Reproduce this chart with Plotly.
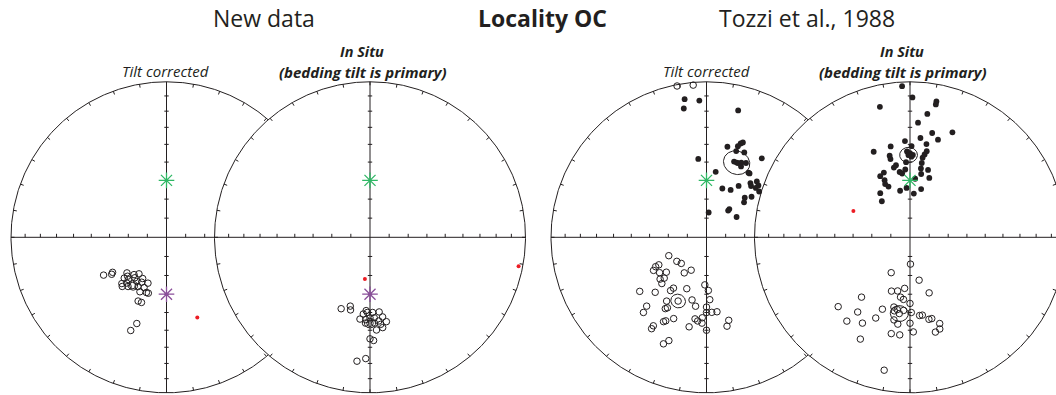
import numpy as np
import plotly.graph_objects as go

# ---------------------------------------------------------------------------
# Palaeomagnetic directions, declination / inclination in degrees.
# Negative inclination = upper hemisphere (open symbols).
# ---------------------------------------------------------------------------

# New data, tilt corrected
new_tc_dec = [239, 237, 236, 228, 225, 221, 217, 226, 222, 218, 210, 224, 221, 214,
              209, 202, 222, 218, 210, 204, 200, 206, 198, 204, 201, 199, 201]
new_tc_inc = [-51, -56, -55, -62, -61, -64, -66, -59, -60, -63, -65, -56, -58, -62,
              -63, -64, -55, -57, -60, -61, -59, -58, -59, -53, -53, -41, -36]
new_tc_mean = (215, -59, 2.5)          # dec, inc, a95

# New data, in situ
new_is_dec = [202, 196, 195, 183, 185, 182, 178, 173, 171, 187, 183, 180, 177, 174,
              169, 183, 177, 173, 172, 176, 180, 178, 182, 186]
new_is_inc = [-49, -52, -50, -51, -49, -50, -50, -50, -47, -46, -46, -47, -47, -45,
              -44, -44, -44, -43, -41, -40, -35, -34, -23, -21]
new_is_mean = (180, -44, 2.7)

# Tozzi et al., 1988, tilt corrected: normal (down) and reversed (up) sites
tozzi_tc_n_dec = [351, 350, 357, 14, 13, 20, 21, 19, 19, 24, 354, 35, 20, 23, 25, 28,
                  26, 8, 33, 34, 39, 41, 42, 45, 45, 49, 18, 27, 32, 48, 44, 47, 39,
                  39, 56, 5]
tozzi_tc_n_inc = [11, 17, 13, 17, 40, 36, 35, 38, 41, 40, 48, 38, 47, 47, 46, 45, 48,
                  55, 49, 49, 53, 54, 50, 51, 53, 53, 63, 62, 58, 58, 61, 63, 71, 72,
                  71, 77]
tozzi_tc_r_dec = [244, 231, 224, 240, 240, 238, 229, 233, 212, 205, 228, 226, 224, 231,
                  223, 214, 213, 201, 182, 178, 212, 193, 177, 221, 220, 209, 210, 189,
                  180, 180, 176, 172, 202, 188, 186, 183, 183, 207, 206, 211, 211, 191,
                  180, 165, 167, 202, 200, 349, 355]
tozzi_tc_r_inc = [-68, -70, -71, -59, -61, -57, -62, -59, -68, -71, -57, -59, -56, -44,
                  -50, -56, -58, -61, -65, -62, -50, -56, -57, -41, -37, -47, -46, -53,
                  -53, -50, -50, -50, -43, -46, -45, -47, -44, -39, -40, -34, -32, -41,
                  -40, -44, -41, -27, -30, -1, -2]
tozzi_tc_n_mean = (22, 47, 6.5)
tozzi_tc_r_mean = (204, -53, 3.7)

# Tozzi et al., 1988, in situ
tozzi_is_n_dec = [357, 1, 347, 11, 11, 8, 4, 22, 12, 6, 16, 357, 10, 1, 348, 337, 11,
                  10, 358, 0, 2, 359, 1, 346, 346, 9, 9, 357, 9, 349, 347, 15, 10, 338,
                  334, 351, 353, 356, 18, 336, 335, 337, 5, 348, 356, 5, 13, 326, 322]
tozzi_is_n_inc = [3, 11, 15, 12, 14, 21, 27, 28, 32, 36, 35, 38, 39, 41, 40, 40, 43,
                  45, 44, 45, 46, 46, 47, 45, 47, 47, 50, 50, 53, 51, 52, 53, 56, 53,
                  54, 55, 56, 54, 57, 57, 59, 61, 59, 65, 64, 67, 64, 62, 66]
tozzi_is_r_dec = [179, 208, 168, 199, 193, 186, 161, 219, 189, 186, 180, 226, 201, 193,
                  190, 215, 192, 185, 179, 203, 217, 209, 191, 188, 180, 173, 171, 167,
                  165, 161, 162, 165, 191, 186, 178, 206, 191]
tozzi_is_r_inc = [-76, -69, -67, -60, -61, -63, -59, -49, -58, -57, -55, -36, -49, -52,
                  -51, -41, -50, -51, -50, -43, -33, -37, -45, -43, -44, -48, -48, -45,
                  -45, -41, -38, -37, -37, -37, -39, -28, -14]
tozzi_is_n_mean = (359, 46, 4.3)
tozzi_is_r_mean = (188, -49, 4.4)

# Reference field directions (normal / reversed dipole)
dipole_normal = (0, 60)
dipole_reversed = (180, -60)

# Additional single directions (red)
extra_dec = [[159], [187, 101], [], [295]]
extra_inc = [[44], [68, 3], [], [57]]

# ---------------------------------------------------------------------------
# Net geometry (page pixels)
# ---------------------------------------------------------------------------
R = 155.5
CY = 237.3
CX = [166.5, 370.0, 706.5, 910.0]
INK = "#231f20"
GREEN = "#2fb865"
PURPLE = "#8a4f9a"
RED = "#ec1c24"


def eq_area(dec, inc, cx):
    """Lambert equal-area (Schmidt) projection onto a net centred at cx."""
    d = np.radians(np.asarray(dec, float))
    colat = np.radians(90.0 - np.abs(np.asarray(inc, float)))
    rho = np.sqrt(2.0) * np.sin(colat / 2.0)
    return cx + R * rho * np.sin(d), CY - R * rho * np.cos(d)


def cone(dec, inc, a95, n=91):
    """Small circle of angular radius a95 around a direction."""
    d, i, a = np.radians([dec, inc, a95])
    m = np.array([np.cos(i) * np.cos(d), np.cos(i) * np.sin(d), np.sin(i)])
    u = np.array([-np.sin(i) * np.cos(d), -np.sin(i) * np.sin(d), np.cos(i)])
    v = np.array([-np.sin(d), np.cos(d), 0.0])
    t = np.linspace(0, 2 * np.pi, n)
    p = np.cos(a) * m[:, None] + np.sin(a) * (np.cos(t) * u[:, None] + np.sin(t) * v[:, None])
    decs = np.degrees(np.arctan2(p[1], p[0])) % 360
    incs = np.degrees(np.arcsin(np.clip(p[2], -1, 1)))
    return decs, incs


def net_frame(cx):
    th = np.linspace(0, 2 * np.pi, 721)
    ring = go.Scatter(x=cx + R * np.sin(th), y=CY - R * np.cos(th), mode="lines",
                      fill="toself", fillcolor="white",
                      line=dict(color=INK, width=1), hoverinfo="skip")
    xs, ys = [cx - R, cx + R, None, cx, cx, None], [CY, CY, None, CY - R, CY + R, None]
    # declination ticks on the primitive
    for k in range(0, 360, 10):
        a = np.radians(k)
        xs += [cx + R * np.sin(a), cx + (R - 3.5) * np.sin(a), None]
        ys += [CY - R * np.cos(a), CY - (R - 3.5) * np.cos(a), None]
    # inclination ticks every 10 degrees along the diameters
    for inc in range(10, 90, 10):
        r = R * np.sqrt(2.0) * np.sin(np.radians(90 - inc) / 2.0)
        for s in (-1, 1):
            xs += [cx + s * r, cx + s * r, None]
            ys += [CY, CY - 3.5, None]
            xs += [cx - 2.2, cx + 2.2, None]
            ys += [CY + s * r, CY + s * r, None]
    lines = go.Scatter(x=xs, y=ys, mode="lines", line=dict(color=INK, width=1),
                       hoverinfo="skip")
    return [ring, lines]


def points(dec, inc, cx, filled):
    x, y = eq_area(dec, inc, cx)
    if filled:
        marker = dict(symbol="circle", size=5.8, color=INK, line=dict(width=0))
    else:
        marker = dict(symbol="circle-open", size=6.5, color=INK, line=dict(width=1, color=INK))
    return go.Scatter(x=x, y=y, mode="markers", marker=marker, hoverinfo="skip")


def mean_with_cone(mean, cx):
    d, i, a = mean
    cd, ci = cone(d, i, a)
    x, y = eq_area(cd, ci, cx)
    ring = go.Scatter(x=x, y=y, mode="lines", line=dict(color=INK, width=1), hoverinfo="skip")
    return [ring, points([d], [i], cx, i > 0)]


def star(direction, cx, color):
    x, y = eq_area([direction[0]], [direction[1]], cx)
    return go.Scatter(x=x, y=y, mode="markers",
                      marker=dict(symbol="asterisk-open", size=13, color=color,
                                  line=dict(width=1.3, color=color)),
                      hoverinfo="skip")


fig = go.Figure()
for cx in CX:
    for tr in net_frame(cx):
        fig.add_trace(tr)

nets = [
    (CX[0], [(new_tc_dec, new_tc_inc, False)], [new_tc_mean], True),
    (CX[1], [(new_is_dec, new_is_inc, False)], [new_is_mean], True),
    (CX[2], [(tozzi_tc_n_dec, tozzi_tc_n_inc, True), (tozzi_tc_r_dec, tozzi_tc_r_inc, False)],
     [tozzi_tc_n_mean, tozzi_tc_r_mean], False),
    (CX[3], [(tozzi_is_n_dec, tozzi_is_n_inc, True), (tozzi_is_r_dec, tozzi_is_r_inc, False)],
     [tozzi_is_n_mean, tozzi_is_r_mean], False),
]

for k, (cx, sets, means, with_reversed) in enumerate(nets):
    for dec, inc, filled in sets:
        fig.add_trace(points(dec, inc, cx, filled))
    for m in means:
        for tr in mean_with_cone(m, cx):
            fig.add_trace(tr)
    if extra_dec[k]:
        x, y = eq_area(extra_dec[k], extra_inc[k], cx)
        fig.add_trace(go.Scatter(x=x, y=y, mode="markers",
                                 marker=dict(size=4, color=RED), hoverinfo="skip"))
    fig.add_trace(star(dipole_normal, cx, GREEN))
    if with_reversed:
        fig.add_trace(star(dipole_reversed, cx, PURPLE))

FONT = "Open Sans"


def label(text, x, y, size, **kw):
    fig.add_annotation(text=text, x=x, y=y, xref="x", yref="y", showarrow=False,
                       xanchor="center", yanchor="middle",
                       font=dict(family=FONT, size=size, color=INK), **kw)


label("New data", 264, 18, 23)
label("<b>Locality OC</b>", 542, 18, 23)
label("Tozzi et al., 1988", 807, 18, 23)
label("<i>Tilt corrected</i>", 165.5, 71, 15)
label("<i>Tilt corrected</i>", 706, 71, 15)
for cx in (CX[1], CX[3]):
    label("<b><i>In Situ</i></b>", cx - 8, 51, 14.5)
    label("<b><i>(bedding tilt is primary)</i></b>", cx - 7.5, 72, 15)

fig.update_layout(
    width=1056, height=395, margin=dict(l=0, r=0, t=0, b=0),
    paper_bgcolor="white", plot_bgcolor="white", showlegend=False,
    xaxis=dict(range=[0, 1056], visible=False, fixedrange=True),
    yaxis=dict(range=[395, 0], visible=False, fixedrange=True),
)

fig.write_html("out.html")
